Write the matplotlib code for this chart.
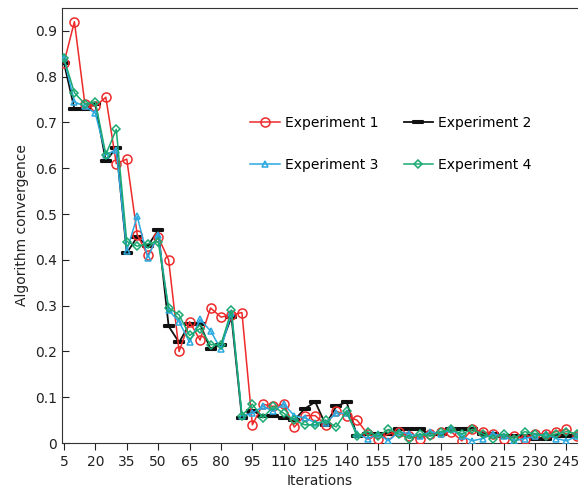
import matplotlib
matplotlib.use("Agg")
import matplotlib.pyplot as plt
from matplotlib.path import Path

iterations = list(range(5, 251, 5))

exp1 = [0.83, 0.92, 0.74, 0.735, 0.755, 0.61, 0.62, 0.455, 0.41, 0.45,
        0.40, 0.20, 0.265, 0.225, 0.295, 0.275, 0.28, 0.285, 0.04, 0.085,
        0.08, 0.085, 0.035, 0.06, 0.06, 0.04, 0.07, 0.06,
        0.05, 0.02, 0.01, 0.02, 0.025, 0.015, 0.01, 0.02, 0.025, 0.025, 0.005,
        0.03, 0.025, 0.02, 0.01, 0.015, 0.01, 0.02, 0.02, 0.025, 0.03, 0.015]
exp2 = [0.83, 0.73, 0.73, 0.74, 0.615, 0.645, 0.415, 0.45, 0.43, 0.465,
        0.255, 0.22, 0.26, 0.26, 0.205, 0.215, 0.275, 0.055, 0.07, 0.06,
        0.06, 0.055, 0.05, 0.075, 0.09, 0.04, 0.08, 0.09,
        0.015, 0.02, 0.02, 0.02, 0.03, 0.03, 0.03, 0.02, 0.02, 0.03, 0.03,
        0.03, 0.02, 0.02, 0.015, 0.015, 0.015, 0.01, 0.01, 0.015, 0.015, 0.015]
exp3 = [0.84, 0.745, 0.735, 0.72, 0.63, 0.64, 0.42, 0.495, 0.405, 0.455,
        0.29, 0.265, 0.22, 0.27, 0.245, 0.205, 0.285, 0.06, 0.065, 0.08,
        0.07, 0.085, 0.06, 0.055, 0.045, 0.045, 0.065, 0.065,
        0.02, 0.01, 0.02, 0.005, 0.025, 0.02, 0.015, 0.025, 0.02, 0.03, 0.015,
        0.005, 0.01, 0.02, 0.015, 0.005, 0.01, 0.015, 0.02, 0.01, 0.005, 0.015]
exp4 = [0.84, 0.765, 0.74, 0.745, 0.63, 0.685, 0.44, 0.43, 0.435, 0.44,
        0.295, 0.28, 0.235, 0.25, 0.215, 0.215, 0.29, 0.06, 0.085, 0.055,
        0.08, 0.065, 0.05, 0.04, 0.04, 0.05, 0.035, 0.07,
        0.015, 0.025, 0.015, 0.03, 0.02, 0.01, 0.02, 0.015, 0.025, 0.03, 0.02,
        0.03, 0.02, 0.01, 0.02, 0.01, 0.025, 0.02, 0.015, 0.02, 0.025, 0.02]

x_ticks = list(range(5, 251, 15))
y_ticks = [0, 0.1, 0.2, 0.3, 0.4, 0.5, 0.6, 0.7, 0.8, 0.9]
y_tick_labels = ["0", "0.1", "0.2", "0.3", "0.4", "0.5", "0.6", "0.7", "0.8", "0.9"]

# flat rectangle marker for experiment 2
bar_marker = Path([(-1, -0.3), (1, -0.3), (1, 0.3), (-1, 0.3), (-1, -0.3)],
                  [Path.MOVETO, Path.LINETO, Path.LINETO, Path.LINETO, Path.CLOSEPOLY])

fig = plt.figure(figsize=(5.78, 4.94), dpi=100)
ax = fig.add_axes([0.107, 0.103, 0.893, 0.881])

l1, = ax.plot(iterations, exp1, color="#ee2a2a", lw=1.1, marker="o", ms=6.5,
              mfc="none", mew=1.1, label="Experiment 1", zorder=3)
l2, = ax.plot(iterations, exp2, color="#111111", lw=1.3, marker=bar_marker, ms=7,
              mfc="white", mew=1.5, label="Experiment 2", zorder=2)
l3, = ax.plot(iterations, exp3, color="#2aa9e0", lw=1.1, marker="^", ms=4.5,
              mfc="none", mew=1.1, label="Experiment 3", zorder=4)
l4, = ax.plot(iterations, exp4, color="#1aaa72", lw=1.1, marker="D", ms=4.5,
              mfc="none", mew=1.1, label="Experiment 4", zorder=5)

ax.set_xlim(4, 250.5)
ax.set_ylim(0, 0.95)
ax.set_xticks(x_ticks)
ax.set_yticks(y_ticks)
ax.set_yticklabels(y_tick_labels)
ax.tick_params(axis="x", direction="out", length=5, labelsize=10, colors="#222222")
ax.tick_params(axis="y", direction="in", length=5, labelsize=10, colors="#222222")
ax.spines["right"].set_visible(False)
for s in ["left", "bottom", "top"]:
    ax.spines[s].set_color("#333333")

ax.set_xlabel("Iterations", fontsize=10, color="#222222")
ax.set_ylabel("Algorithm convergence", fontsize=10, color="#222222")

# column-major order so rows read 1,2 / 3,4
ax.legend([l1, l3, l2, l4], ["Experiment 1", "Experiment 3", "Experiment 2", "Experiment 4"],
          ncol=2, loc="center", bbox_to_anchor=(0.638, 0.688), frameon=False,
          fontsize=10, labelspacing=2.0, columnspacing=1.8, handlelength=2.1,
          handletextpad=0.4)

fig.savefig("out.png", dpi=100)
